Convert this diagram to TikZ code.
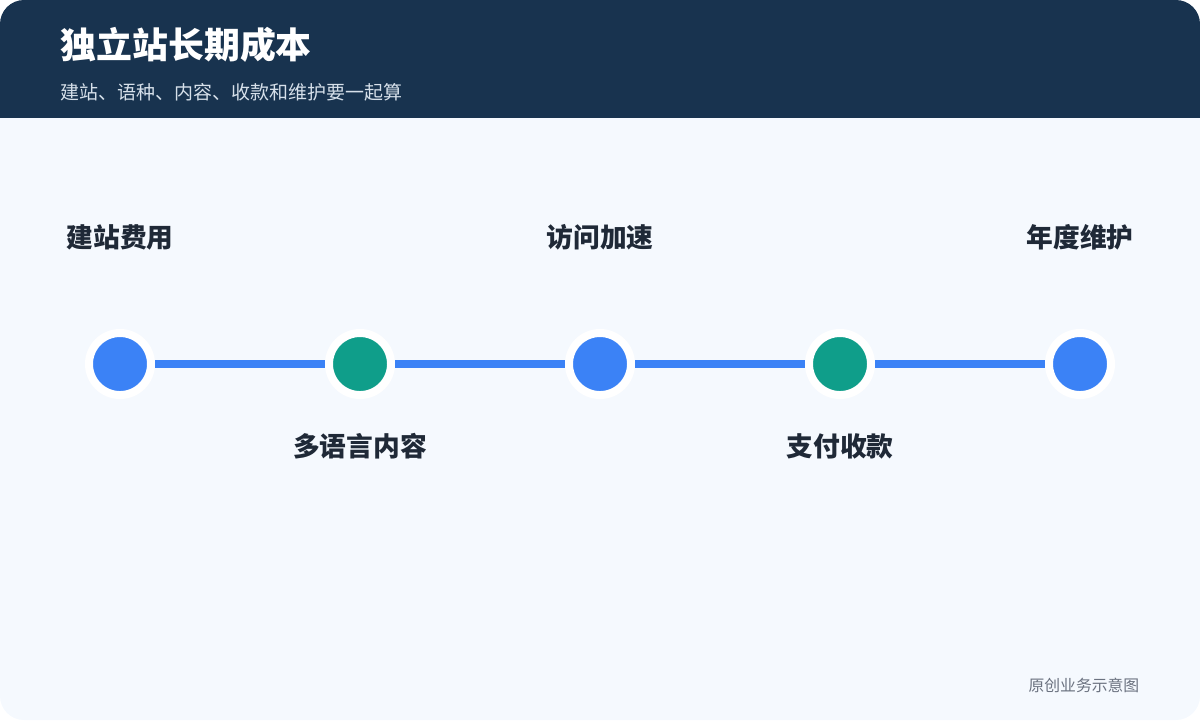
\documentclass[tikz,border=0pt]{standalone}
\usepackage{fontspec}
\newfontfamily\cjk{Noto Sans CJK SC}
\definecolor{navy}{HTML}{18334F}
\definecolor{bg}{HTML}{F5F9FE}
\definecolor{blu}{HTML}{3B82F6}
\definecolor{teal}{HTML}{0F9E8A}
\definecolor{txt}{HTML}{1F2937}
\definecolor{sub}{HTML}{D6E0EA}
\definecolor{foot}{HTML}{6B7280}
\begin{document}
\begin{tikzpicture}[x=0.01cm,y=-0.01cm,
  dot/.style={circle,minimum size=62*0.2845pt,inner sep=0,draw=white,line width=8*0.2845pt},
  lab/.style={font=\cjk\bfseries\fontsize{7.6pt}{9pt}\selectfont,text=txt}]
\useasboundingbox (0,0) rectangle (1200,720);
\fill[bg,rounded corners=24*0.2845pt] (0,0) rectangle (1200,720);
\begin{scope}
\clip[rounded corners=24*0.2845pt] (0,0) rectangle (1200,720);
\fill[navy] (0,0) rectangle (1200,118);
\end{scope}
\node[anchor=west,text=white,font=\cjk\bfseries\fontsize{10.2pt}{12pt}\selectfont,inner sep=0] (t) at (60,45) {独立站长期成本};
\node[anchor=west,text=sub,font=\cjk\fontsize{5.4pt}{6.5pt}\selectfont,inner sep=0] (s) at (60,92) {建站、语种、内容、收款和维护要一起算};
\node[dot,fill=blu] (a) at (120,364) {};
\node[dot,fill=teal] (b) at (360,364) {};
\node[dot,fill=blu] (c) at (600,364) {};
\node[dot,fill=teal] (d) at (840,364) {};
\node[dot,fill=blu] (e) at (1080,364) {};
\begin{scope}[blu,line width=8*0.2845pt]
\draw (a) -- (b); \draw (b) -- (c); \draw (c) -- (d); \draw (d) -- (e);
\end{scope}
\node[lab] (la) at (120,237) {建站费用};
\node[lab] (lb) at (360,446) {多语言内容};
\node[lab] (lc) at (600,237) {访问加速};
\node[lab] (ld) at (840,446) {支付收款};
\node[lab] (le) at (1080,237) {年度维护};
\node[anchor=east,text=foot,font=\cjk\fontsize{4.5pt}{5.5pt}\selectfont,inner sep=0] (f) at (1140,685) {原创业务示意图};
\end{tikzpicture}
\end{document}
